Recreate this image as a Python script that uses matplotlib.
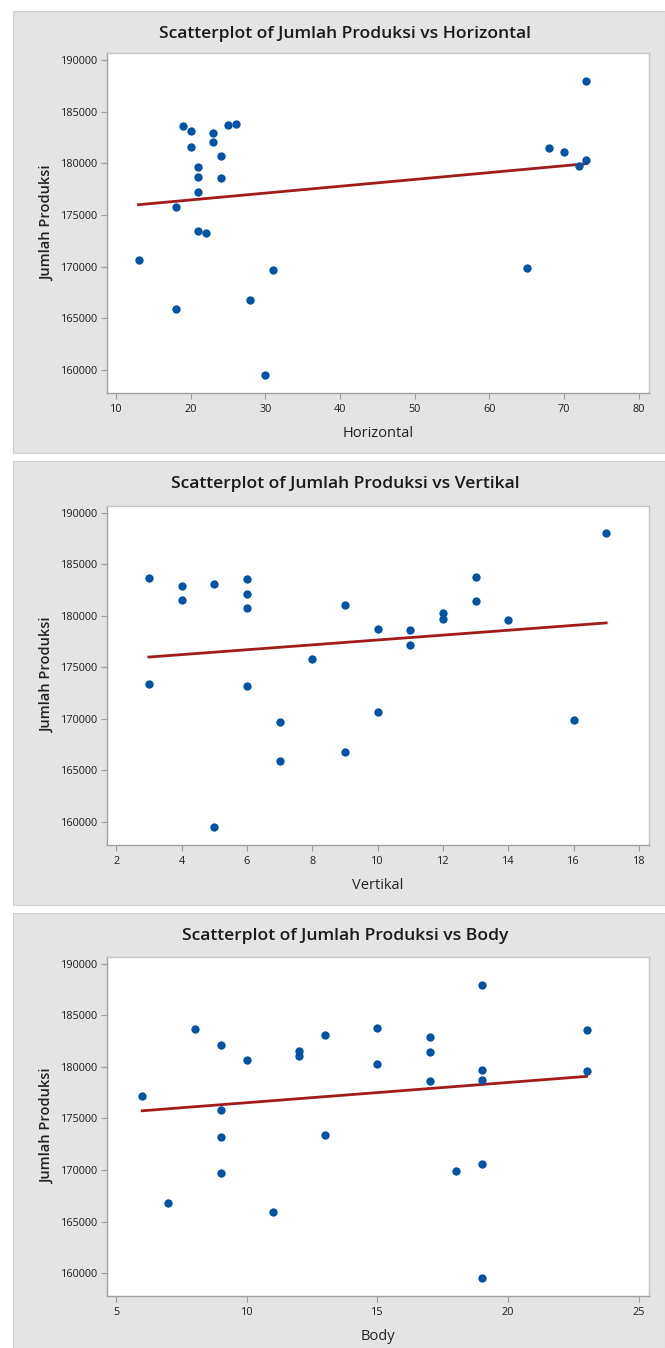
import numpy as np
import matplotlib
matplotlib.use("Agg")
import matplotlib.pyplot as plt
from matplotlib.patches import Rectangle

plt.rcParams['font.family'] = ['Open Sans', 'DejaVu Sans']

# Data
jumlah_produksi = [159500, 165900, 166800, 169700, 169900, 170600, 173200, 173400,
                   175800, 177200, 178600, 178700, 179600, 179700, 180300, 180700,
                   181050, 181450, 181550, 182100, 182900, 183100, 183580, 183680,
                   183800, 187980]
horizontal = [30, 18, 28, 31, 65, 13, 22, 21, 18, 21, 24, 21, 21, 72, 73, 24,
              70, 68, 20, 23, 23, 20, 19, 25, 26, 73]
vertikal = [5, 7, 9, 7, 16, 10, 6, 3, 8, 11, 11, 10, 14, 12, 12, 6,
            9, 13, 4, 6, 4, 5, 6, 3, 13, 17]
body = [19, 11, 7, 9, 18, 19, 9, 13, 9, 6, 17, 19, 23, 19, 15, 10,
        12, 17, 12, 9, 17, 13, 23, 8, 15, 19]

panels = [
    ("Horizontal", horizontal, [10, 20, 30, 40, 50, 60, 70, 80], (8.74, 81.38)),
    ("Vertikal", vertikal, [2, 4, 6, 8, 10, 12, 14, 16, 18], (1.71, 18.31)),
    ("Body", body, [5, 10, 15, 20, 25], (4.64, 25.39)),
]
y_ticks = [160000, 165000, 170000, 175000, 180000, 185000, 190000]

W, H = 665, 1348
fig = plt.figure(figsize=(W / 100, H / 100), dpi=100)
fig.patch.set_facecolor("white")

panel_boxes = [(11, 453), (461, 905), (913, 1348)]
axes_boxes = [(53.3, 392.7), (506, 844.5), (957, 1296)]
ax_left, ax_right = 106.7, 649

gray = "#e4e4e4"
blue = "#0054a6"
red = "#a11b1b"

for (name, xs, xt, xlim), (pt, pb), (at, ab) in zip(panels, panel_boxes, axes_boxes):
    fig.patches.append(Rectangle((13 / W, 1 - pb / H), (W - 13) / W, (pb - pt) / H,
                                 transform=fig.transFigure, facecolor=gray,
                                 edgecolor="#d0d0d0", lw=0.8, zorder=-10))
    ax = fig.add_axes([ax_left / W, 1 - ab / H, (ax_right - ax_left) / W, (ab - at) / H])
    ax.set_zorder(5)
    ax.set_facecolor("white")
    ax.scatter(xs, jumlah_produksi, s=36, color=blue, zorder=3, linewidths=0)
    b, a = np.polyfit(xs, jumlah_produksi, 1)
    xl = np.array([min(xs), max(xs)])
    ax.plot(xl, a + b * xl, color=red, lw=2.0, zorder=2)
    ax.set_xlim(*xlim)
    ax.set_ylim(157780, 190650)
    ax.set_xticks(xt)
    ax.set_yticks(y_ticks)
    ax.tick_params(axis="both", direction="out", length=4, width=0.8, color="#9a9a9a",
                   labelsize=7.8, labelcolor="#1e1e1e")
    ax.tick_params(axis="y", pad=2)
    ax.tick_params(axis="x", pad=4)
    for side in ["left", "bottom"]:
        ax.spines[side].set_color("#a0a0a0")
        ax.spines[side].set_linewidth(1.0)
    for side in ["top", "right"]:
        ax.spines[side].set_color("#c4c4c4")
        ax.spines[side].set_linewidth(1.0)
    ax.set_xlabel(name, fontsize=10.5, color="#222222", labelpad=8)
    ax.set_ylabel("Jumlah Produksi", fontsize=10.5, color="#222222", labelpad=5,
                  fontweight="semibold")
    fig.text(345 / W, 1 - (pt + 23.5) / H, "Scatterplot of Jumlah Produksi vs " + name,
             ha="center", va="center", fontsize=12.6, fontweight="semibold", color="#1a1a1a")

fig.savefig("out.png", dpi=100, facecolor="white")
